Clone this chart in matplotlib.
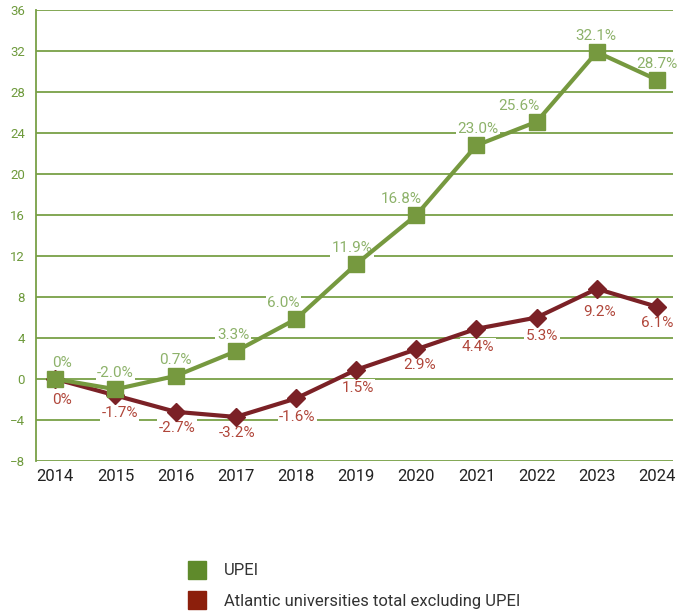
import numpy as np
import matplotlib.pyplot as plt
from matplotlib.lines import Line2D

# Data (plotted positions, labels as printed)
years = ['2014', '2015', '2016', '2017', '2018', '2019', '2020', '2021', '2022', '2023', '2024']
upei = [0.0, -1.0, 0.3, 2.7, 5.85, 11.2, 16.0, 22.8, 25.1, 31.9, 29.2]
upei_labels = ['0%', '-2.0%', '0.7%', '3.3%', '6.0%', '11.9%', '16.8%', '23.0%', '25.6%', '32.1%', '28.7%']
atlantic = [0.0, -1.6, -3.2, -3.7, -1.9, 0.9, 2.9, 4.9, 6.0, 8.8, 7.05]
atlantic_labels = ['0%', '-1.7%', '-2.7%', '-3.2%', '-1.6%', '1.5%', '2.9%', '4.4%', '5.3%', '9.2%', '6.1%']

green_line = '#76993f'
green_label = '#8db26a'
red_line = '#7b2126'
red_label = '#b0463a'
grid_col = '#78a046'

plt.rcParams['font.family'] = ['Roboto', 'DejaVu Sans']

fig = plt.figure(figsize=(6.8, 6.11), dpi=100)
ax = fig.add_axes([0.053, 0.2455, 0.937, 0.738])

x = np.arange(len(years))

ax.plot(x, atlantic, color=red_line, lw=3, marker='D', ms=9, zorder=3)
ax.plot(x, upei, color=green_line, lw=3, marker='s', ms=11, zorder=4)

# labels with white boxes that cut through gridlines
up_dx = [5, 0, 0, -2, -9, -3, -11, 1, -13, -1, 0]
for i, lab in enumerate(upei_labels):
    ax.annotate(lab, (x[i], upei[i]), xytext=(up_dx[i], 11.5), textcoords='offset points',
                ha='center', va='center', fontsize=11, color=green_label,
                bbox=dict(boxstyle='square,pad=0.1', fc='white', ec='none'), zorder=2)
at_dx = [5, 3, 1, 1, 1, 1, 2, 1, 4, 2, 0]
at_dy = [-15, -12.5, -11.5, -11.5, -13.5, -13, -11, -13, -13, -16.5, -11.5]
for i, lab in enumerate(atlantic_labels):
    ax.annotate(lab, (x[i], atlantic[i]), xytext=(at_dx[i], at_dy[i]), textcoords='offset points',
                ha='center', va='center', fontsize=11, color=red_label,
                bbox=dict(boxstyle='square,pad=0.1', fc='white', ec='none'), zorder=2)

ax.set_xlim(-0.32, 10.27)
ax.set_ylim(-8, 36)
ax.set_yticks(np.arange(-8, 37, 4))
ax.set_xticks(x)
ax.set_xticklabels(years)
ax.yaxis.grid(True, color=grid_col, lw=1.3, zorder=0)
ax.set_axisbelow(True)
for s in ['top', 'right', 'bottom']:
    ax.spines[s].set_visible(False)
ax.spines['left'].set_color(grid_col)
ax.spines['left'].set_linewidth(1.3)
ax.tick_params(axis='y', length=0, pad=8, labelsize=9.5, labelcolor='#6e9a3c')
ax.tick_params(axis='x', length=0, pad=6, labelsize=12, labelcolor='#222222')

handles = [Line2D([], [], ls='none', marker='s', ms=13, color='#5f8a2b'),
           Line2D([], [], ls='none', marker='s', ms=13, color='#8c1f0c')]
fig.legend(handles, ['UPEI', 'Atlantic universities total excluding UPEI'],
           loc='upper left', bbox_to_anchor=(0.265, 0.078), frameon=False,
           fontsize=12, labelcolor='#333333', handletextpad=0.6, labelspacing=0.95,
           borderaxespad=0, borderpad=0)

fig.savefig('out.png', dpi=100)
